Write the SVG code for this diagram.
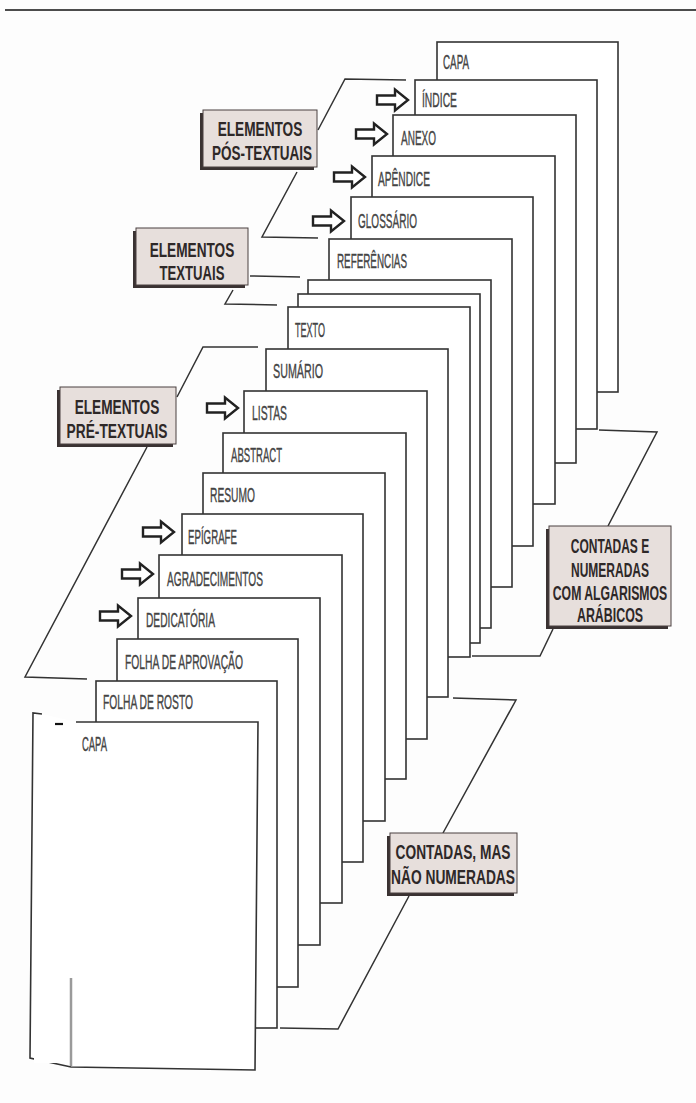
<svg xmlns="http://www.w3.org/2000/svg" width="696" height="1103" viewBox="0 0 696 1103">
<style>
.pg{fill:#fff;stroke:#333;stroke-width:1.6}
.lbl{font-family:"Liberation Sans",Arial,sans-serif;font-size:21px;fill:#444;stroke:#444;stroke-width:0.4}
.box{fill:#e7dfdc;stroke:#4a4040;stroke-width:1}
.sh{fill:#3a3232}
.bt{font-family:"Liberation Sans",Arial,sans-serif;font-weight:bold;font-size:21px;fill:#2e2828;text-anchor:middle}
.bs{font-size:20px}
.conn{fill:none;stroke:#333;stroke-width:1.5}
.arr{fill:#fff;stroke:#222;stroke-width:2.4;stroke-linejoin:miter}
</style>
<defs>
<path id="arw" d="M0,-4.5 H18 V-10.5 L31,0 L18,10.5 V4.5 H0 Z"/>
</defs>
<rect x="0" y="0" width="696" height="1103" fill="#fdfdfd"/>
<line x1="5" y1="10" x2="696" y2="10" stroke="#111" stroke-width="1.6"/>

<g id="connectors">
<polyline class="conn" points="318,130 345,79 406,80"/>
<polyline class="conn" points="297,172 262,237 318,238"/>
<polyline class="conn" points="250,276 300,277"/>
<polyline class="conn" points="233,290 225,304 277,305"/>
<polyline class="conn" points="177,397 203,347 258,347"/>
<polyline class="conn" points="147,447 25,677 87,679"/>
<polyline class="conn" points="599,430 657,432 608,526"/>
<polyline class="conn" points="553,629 540,656 472,656"/>
<polyline class="conn" points="453,698 516,700 443,833"/>
<polyline class="conn" points="409,896 338,1029 280,1028"/>
</g>

<g id="p-capa-back"><rect class="pg" x="437" y="42" width="181" height="350"/><text class="lbl" x="443" y="69" textLength="26" lengthAdjust="spacingAndGlyphs">CAPA</text></g>
<g id="p-indice"><rect class="pg" x="415" y="80" width="182" height="349"/><text class="lbl" x="422" y="107" textLength="35" lengthAdjust="spacingAndGlyphs">ÍNDICE</text><use href="#arw" class="arr" x="377" y="100"/></g>
<g id="p-anexo"><rect class="pg" x="393" y="115" width="183" height="348"/><text class="lbl" x="401" y="145" textLength="35" lengthAdjust="spacingAndGlyphs">ANEXO</text><use href="#arw" class="arr" x="356" y="134"/></g>
<g id="p-apendice"><rect class="pg" x="372" y="156" width="183" height="348"/><text class="lbl" x="378" y="186" textLength="52" lengthAdjust="spacingAndGlyphs">APÊNDICE</text><use href="#arw" class="arr" x="334" y="177"/></g>
<g id="p-glossario"><rect class="pg" x="351" y="197" width="182" height="349"/><text class="lbl" x="358" y="228" textLength="59" lengthAdjust="spacingAndGlyphs">GLOSSÁRIO</text><use href="#arw" class="arr" x="313" y="221"/></g>
<g id="p-referencias"><rect class="pg" x="329" y="239" width="183" height="348"/><text class="lbl" x="337" y="268" textLength="70" lengthAdjust="spacingAndGlyphs">REFERÊNCIAS</text></g>
<g id="p-blank1"><rect class="pg" x="308" y="280" width="183" height="348"/></g>
<g id="p-blank2"><rect class="pg" x="298" y="294" width="182" height="349"/></g>
<g id="p-texto"><rect class="pg" x="288" y="307" width="182" height="350"/><text class="lbl" x="295" y="337" textLength="30" lengthAdjust="spacingAndGlyphs">TEXTO</text></g>
<g id="p-sumario"><rect class="pg" x="266" y="349" width="182" height="348"/><text class="lbl" x="273" y="378" textLength="50" lengthAdjust="spacingAndGlyphs">SUMÁRIO</text></g>
<g id="p-listas"><rect class="pg" x="244" y="391" width="183" height="348"/><text class="lbl" x="252" y="420" textLength="35" lengthAdjust="spacingAndGlyphs">LISTAS</text><use href="#arw" class="arr" x="207" y="408"/></g>
<g id="p-abstract"><rect class="pg" x="223" y="433" width="183" height="346"/><text class="lbl" x="231" y="462" textLength="51" lengthAdjust="spacingAndGlyphs">ABSTRACT</text></g>
<g id="p-resumo"><rect class="pg" x="203" y="473" width="182" height="348"/><text class="lbl" x="210" y="502" textLength="45" lengthAdjust="spacingAndGlyphs">RESUMO</text></g>
<g id="p-epigrafe"><rect class="pg" x="182" y="514" width="181" height="348"/><text class="lbl" x="188" y="544" textLength="49" lengthAdjust="spacingAndGlyphs">EPÍGRAFE</text><use href="#arw" class="arr" x="143" y="532"/></g>
<g id="p-agradecimentos"><rect class="pg" x="159" y="555" width="183" height="348"/><text class="lbl" x="167" y="586" textLength="96" lengthAdjust="spacingAndGlyphs">AGRADECIMENTOS</text><use href="#arw" class="arr" x="122" y="574"/></g>
<g id="p-dedicatoria"><rect class="pg" x="138" y="598" width="182" height="347"/><text class="lbl" x="146" y="627" textLength="69" lengthAdjust="spacingAndGlyphs">DEDICATÓRIA</text><use href="#arw" class="arr" x="100" y="616"/></g>
<g id="p-aprovacao"><rect class="pg" x="117" y="639" width="181" height="348"/><text class="lbl" x="125" y="669" textLength="118" lengthAdjust="spacingAndGlyphs">FOLHA DE APROVAÇÃO</text></g>
<g id="p-rosto"><rect class="pg" x="96" y="681" width="181" height="347"/><text class="lbl" x="103" y="709" textLength="90" lengthAdjust="spacingAndGlyphs">FOLHA DE ROSTO</text></g>
<g id="p-capa-front">
<path d="M76,722 H258 L255,1070 L71,1067 L30,1058 L33,713 L42,714" fill="#fff" stroke="#333" stroke-width="1.6"/>
<rect x="34" y="723" width="42" height="340" fill="#fff"/>
<line x1="71" y1="978" x2="71" y2="1066" stroke="#9a9a9a" stroke-width="2.5"/>
<line x1="55" y1="724" x2="63" y2="724" stroke="#111" stroke-width="2.2"/>
<text class="lbl" x="82" y="751" textLength="25" lengthAdjust="spacingAndGlyphs">CAPA</text>
</g>

<g id="b-pos">
<rect class="sh" x="200" y="113" width="114" height="57"/>
<rect class="box" x="203" y="110" width="114" height="57"/>
<text class="bt" transform="translate(260,136) scale(0.65,1)">ELEMENTOS</text>
<text class="bt" transform="translate(262,160) scale(0.644,1)">PÓS-TEXTUAIS</text>
</g>
<g id="b-textuais">
<rect class="sh" x="133" y="231" width="112" height="57"/>
<rect class="box" x="136" y="228" width="112" height="57"/>
<text class="bt" transform="translate(192,257) scale(0.65,1)">ELEMENTOS</text>
<text class="bt" transform="translate(192,280) scale(0.626,1)">TEXTUAIS</text>
</g>
<g id="b-pre">
<rect class="sh" x="57" y="390" width="116" height="57"/>
<rect class="box" x="60" y="387" width="116" height="57"/>
<text class="bt" transform="translate(117,414) scale(0.65,1)">ELEMENTOS</text>
<text class="bt" transform="translate(117,438) scale(0.656,1)">PRÉ-TEXTUAIS</text>
</g>
<g id="b-numeradas">
<rect class="sh" x="546" y="529" width="122" height="100"/>
<rect class="box" x="549" y="526" width="122" height="100"/>
<text class="bt bs" transform="translate(610,553) scale(0.6,1)">CONTADAS E</text>
<text class="bt bs" transform="translate(610,577) scale(0.6,1)">NUMERADAS</text>
<text class="bt bs" transform="translate(610,600) scale(0.612,1)">COM ALGARISMOS</text>
<text class="bt bs" transform="translate(610,622) scale(0.62,1)">ARÁBICOS</text>
</g>
<g id="b-nao-numeradas">
<rect class="sh" x="387" y="836" width="127" height="60"/>
<rect class="box" x="390" y="833" width="127" height="60"/>
<text class="bt bs" transform="translate(453,859) scale(0.687,1)">CONTADAS, MAS</text>
<text class="bt bs" transform="translate(453,884) scale(0.689,1)">NÃO NUMERADAS</text>
</g>
</svg>
